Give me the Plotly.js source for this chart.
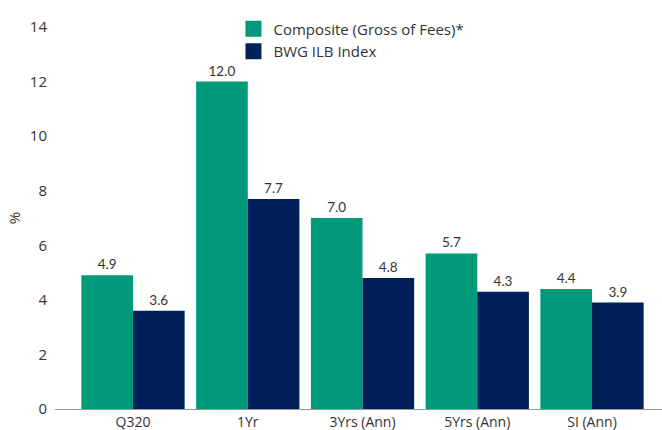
<!DOCTYPE html>
<html>
<head>
<meta charset="utf-8">
<script src="https://cdn.plot.ly/plotly-3.0.1.min.js"></script>
<style>html,body{margin:0;padding:0;background:#fff;}#chart{width:662px;height:430px;}</style>
</head>
<body>
<div id="chart"></div>
<script>
const categories = ["Q320", "1Yr", "3Yrs (Ann)", "5Yrs (Ann)", "SI (Ann)"];
const compositeValues = [4.9, 12.0, 7.0, 5.7, 4.4];
const indexValues = [3.6, 7.7, 4.8, 4.3, 3.9];
const seriesNames = ["Composite (Gross of Fees)*", "BWG ILB Index"];
const seriesColors = ["#00997A", "#00205B"];
const yTicks = [0, 2, 4, 6, 8, 10, 12, 14];

const tickFont = "'Open Sans', Lato, sans-serif";
const labelFont = "Lato, 'Open Sans', sans-serif";
const valueSets = [compositeValues, indexValues];
const traces = [];
valueSets.forEach((vals, i) => {
  traces.push({type: "bar", name: seriesNames[i], x: categories, y: vals,
   marker: {color: seriesColors[i]}, text: vals.map(v => v.toFixed(1)),
   textposition: "outside", cliponaxis: false, showlegend: false,
   textfont: {size: 13.5, color: "#333", family: labelFont}, hoverinfo: "none"});
});
valueSets.forEach((vals, i) => {
  traces.push({type: "scatter", mode: "markers", name: seriesNames[i],
   x: [categories[0]], y: [null], showlegend: true,
   marker: {symbol: "square", size: 17, color: seriesColors[i]}, hoverinfo: "none"});
});
const layout = {
  width: 662, height: 430,
  margin: {l: 55, r: 0, t: 27, b: 21},
  paper_bgcolor: "#fff", plot_bgcolor: "#fff",
  font: {family: tickFont, size: 14, color: "#333"},
  barmode: "group", bargap: 0.1, bargroupgap: 0,
  showlegend: true,
  legend: {x: 0.294, y: 1.038, xanchor: "left", yanchor: "top",
           font: {size: 15, color: "#333", family: tickFont},
           bgcolor: "rgba(0,0,0,0)"},
  xaxis: {type: "category", range: [-0.68, 4.61], showgrid: false,
          showline: true, linecolor: "#999", linewidth: 1, ticks: "",
          tickfont: {size: 14, color: "#333"}, fixedrange: true},
  yaxis: {range: [0, 14], tickvals: yTicks, showgrid: false, zeroline: false,
          showline: false, ticks: "", tickfont: {size: 15, color: "#333"},
          ticklabelstandoff: 7,
          title: {text: "%", font: {size: 15, color: "#333"}, standoff: 5},
          fixedrange: true}
};
Plotly.newPlot("chart", traces, layout, {displayModeBar: false, staticPlot: true});
</script>
</body>
</html>
